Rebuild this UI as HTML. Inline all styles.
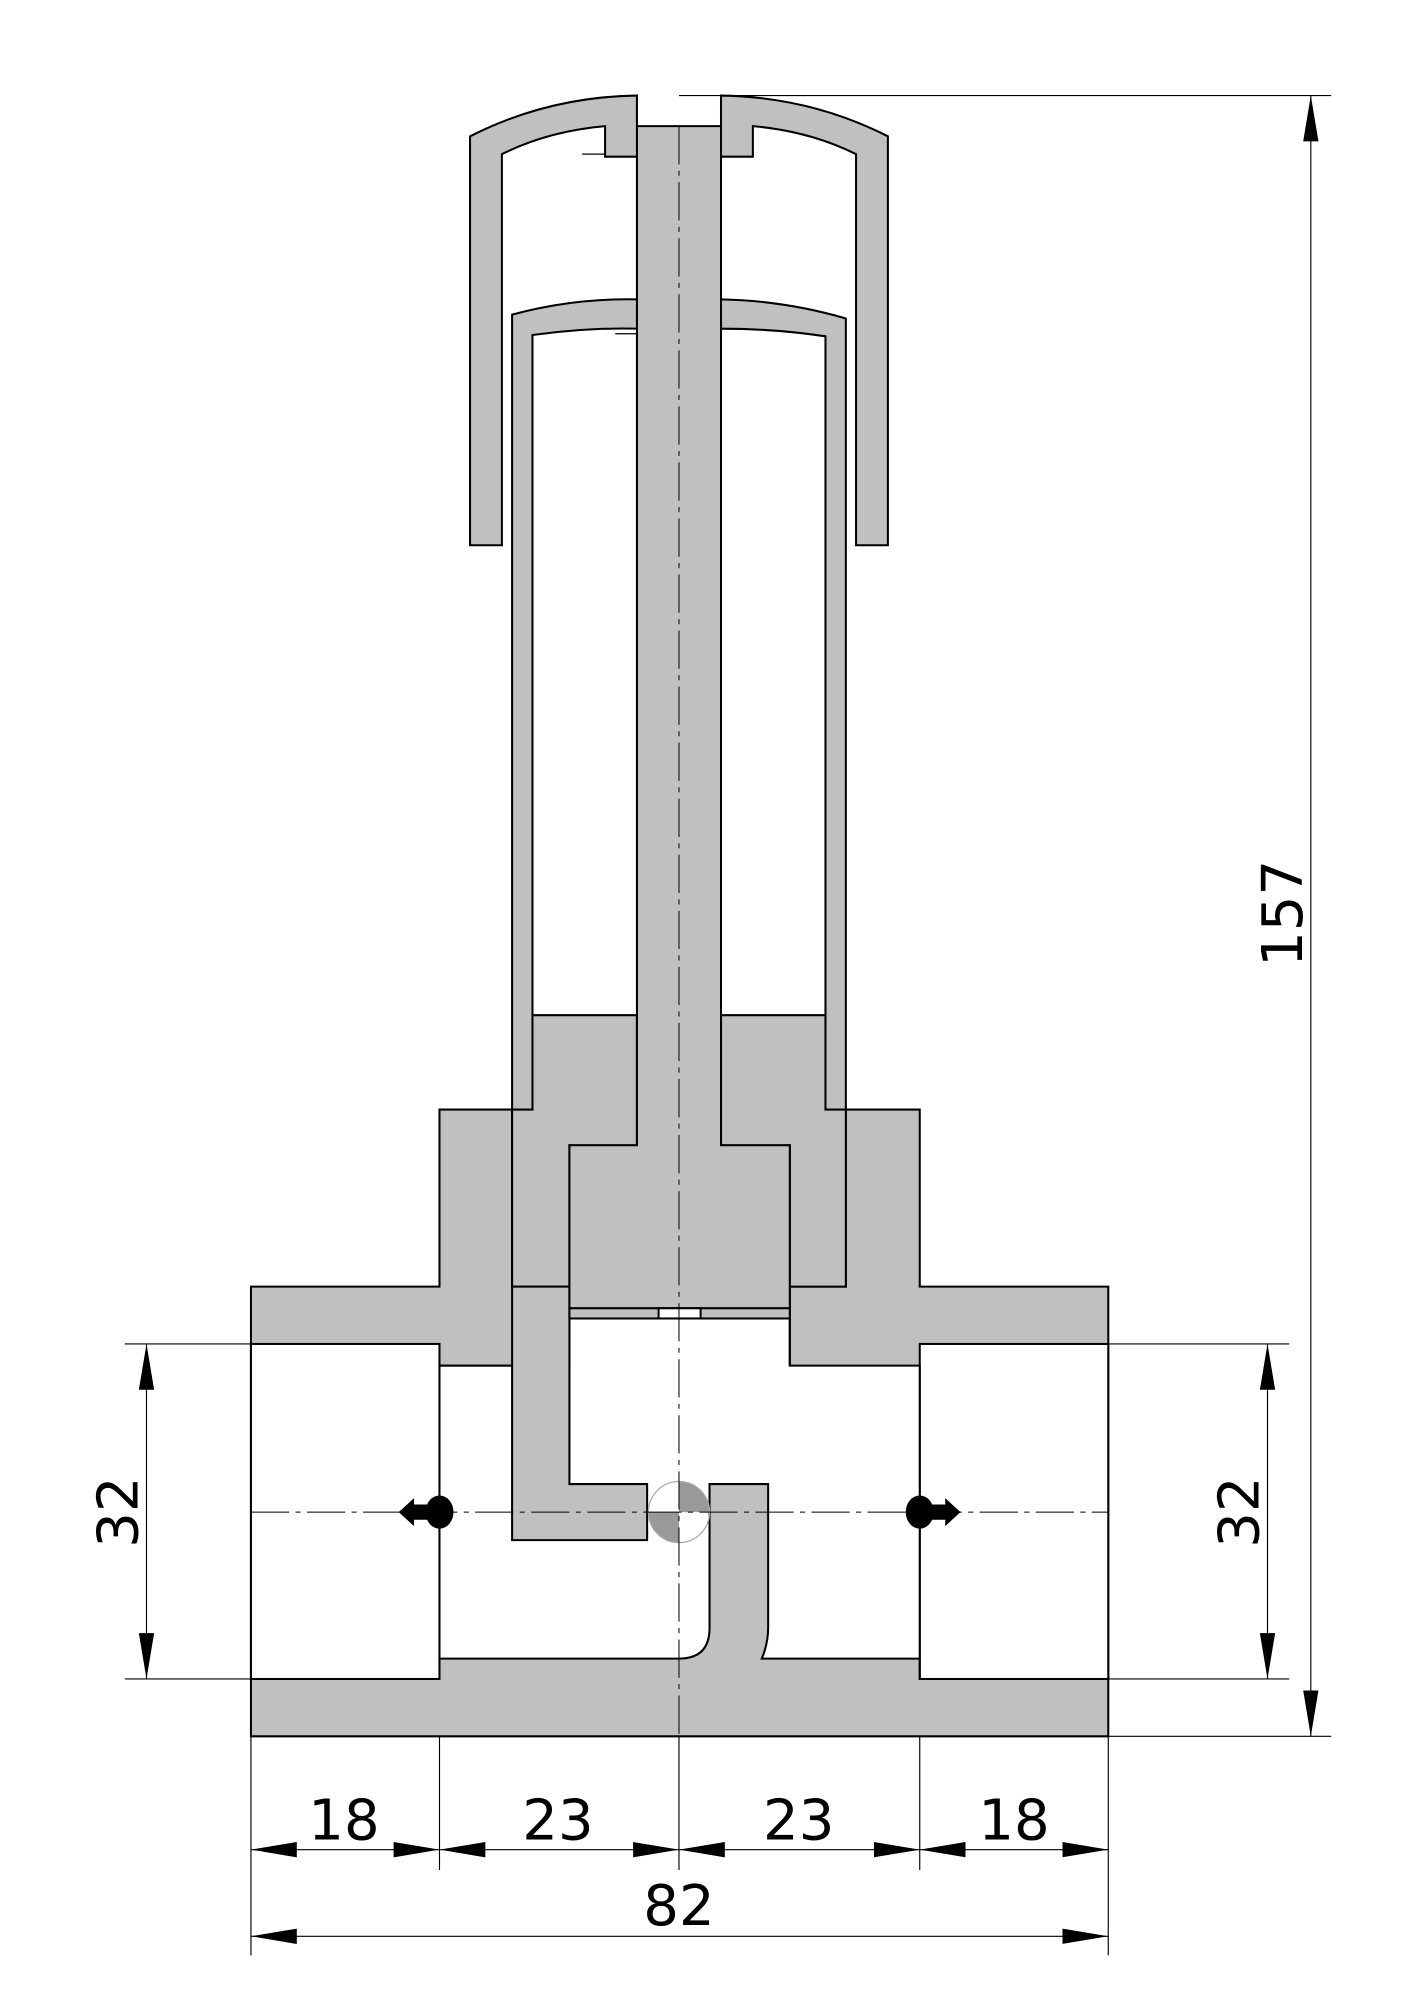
<!DOCTYPE html>
<html><head><meta charset="utf-8"><style>html,body{margin:0;padding:0;background:#fff}svg{display:block}</style></head>
<body>
<svg width="1414" height="2000" viewBox="0 0 1110 1570" xmlns="http://www.w3.org/2000/svg">
<defs>
<marker id="a" viewBox="0 0 20 8" refX="20" refY="4" markerWidth="20" markerHeight="8" orient="auto-start-reverse" markerUnits="userSpaceOnUse"><path d="M0,0 L20,4 L0,8 Z" fill="#000"/></marker>
<marker id="b" viewBox="0 0 36 12" refX="36" refY="6" markerWidth="36" markerHeight="12" orient="auto-start-reverse" markerUnits="userSpaceOnUse"><path d="M0,0 L36,6 L0,12 Z" fill="#000"/></marker>
</defs>
<g stroke="#000" stroke-width="1.6" fill="#c0c0c0" stroke-linejoin="miter">
<!-- body -->
<path d="M197,1010 H345 V871 H722 V1010 H870 V1363 H197 Z"/>
<rect x="197" y="1055" width="148" height="263" fill="#fff"/>
<rect x="722" y="1055" width="148" height="263" fill="#fff"/>
<path fill="#fff" d="M345,1072 H447 V1035 H620 V1072 H722 V1302 H598 Q603,1290 603,1278 V1165 H557 V1278 Q557,1302 533,1302 H345 Z"/>
<line x1="345" y1="1318" x2="345" y2="1302"/>
<line x1="722" y1="1318" x2="722" y2="1302"/>
<!-- tube -->
<path d="M402,1010 V247 Q450,234 500,235 H566 Q616,236 664,250 V1010 Z"/>
<path fill="#fff" d="M418,797 V263 Q460,257 500,258 H566 Q608,258 648,264 V797 Z"/>
<path d="M418,797 H500 V899 H447 V1010 H402 V871 H418 Z"/>
<path d="M648,797 H566 V899 H620 V1010 H664 V871 H648 Z"/>
<!-- left insert -->
<path d="M402,1010 H447 V1165 H508 V1209 H402 Z"/>
<line x1="345" y1="1072" x2="402" y2="1072"/>
<line x1="620" y1="1010" x2="620" y2="1072"/>
<!-- stem -->
<path d="M500,99 H566 V899 H620 V1027 H447 V899 H500 Z"/>
<rect x="447" y="1027" width="173" height="8"/>
<rect x="517" y="1027" width="33" height="8" fill="#fff"/>
<!-- cap -->
<path d="M369,107 Q430,76 500,75 V123 H475 V99 Q430,103 394,121 V428 H369 Z"/>
<path d="M697,107 Q636,76 566,75 V123 H591 V99 Q636,103 672,121 V428 H697 Z"/>
</g>
<g stroke="#000" stroke-width="1" fill="none">
<line x1="457" y1="121" x2="475" y2="121"/>
<line x1="483" y1="262" x2="500" y2="262"/>
</g>
<!-- ball -->
<g>
<path d="M533,1187 V1163 A24,24 0 0 1 557,1187 Z" fill="#999"/>
<path d="M533,1187 V1211 A24,24 0 0 1 509,1187 Z" fill="#999"/>
<circle cx="533" cy="1187" r="24" fill="none" stroke="#aaa" stroke-width="1"/>
</g>
<!-- centerlines -->
<g stroke="#000" stroke-width="0.8" fill="none" stroke-dasharray="30,5,4,5">
<line x1="533" y1="99" x2="533" y2="1363"/>
<line x1="197" y1="1187" x2="870" y2="1187"/>
</g>
<!-- flow arrows -->
<g fill="#000">
<ellipse cx="345" cy="1187" rx="11" ry="13"/>
<path d="M340,1181 H325 V1176 L313,1187 L325,1198 V1193 H340 Z"/>
<ellipse cx="722" cy="1187" rx="11" ry="13"/>
<path d="M727,1181 H742 V1176 L754,1187 L742,1198 V1193 H727 Z"/>
</g>
<!-- dimensions -->
<g stroke="#000" stroke-width="0.9" fill="none">
<line x1="533" y1="75" x2="1045" y2="75"/>
<line x1="870" y1="1363" x2="1045" y2="1363"/>
<line x1="1029" y1="75" x2="1029" y2="1363" marker-start="url(#b)" marker-end="url(#b)"/>
<line x1="98" y1="1055" x2="197" y2="1055"/>
<line x1="98" y1="1318" x2="197" y2="1318"/>
<line x1="115" y1="1055" x2="115" y2="1318" marker-start="url(#b)" marker-end="url(#b)"/>
<line x1="870" y1="1055" x2="1012" y2="1055"/>
<line x1="870" y1="1318" x2="1012" y2="1318"/>
<line x1="995" y1="1055" x2="995" y2="1318" marker-start="url(#b)" marker-end="url(#b)"/>
<line x1="197" y1="1363" x2="197" y2="1535"/>
<line x1="870" y1="1363" x2="870" y2="1535"/>
<line x1="345" y1="1363" x2="345" y2="1468"/>
<line x1="533" y1="1363" x2="533" y2="1468"/>
<line x1="722" y1="1363" x2="722" y2="1468"/>
<line x1="197" y1="1452" x2="345" y2="1452" marker-start="url(#b)" marker-end="url(#b)"/>
<line x1="345" y1="1452" x2="533" y2="1452" marker-start="url(#b)" marker-end="url(#b)"/>
<line x1="533" y1="1452" x2="722" y2="1452" marker-start="url(#b)" marker-end="url(#b)"/>
<line x1="722" y1="1452" x2="870" y2="1452" marker-start="url(#b)" marker-end="url(#b)"/>
<line x1="197" y1="1520" x2="870" y2="1520" marker-start="url(#b)" marker-end="url(#b)"/>
</g>
<g font-family="DejaVu Sans, Liberation Sans, sans-serif" font-size="44" fill="#000" text-anchor="middle">
<text x="270" y="1444">18</text>
<text x="438" y="1444">23</text>
<text x="627" y="1444">23</text>
<text x="796" y="1444">18</text>
<text x="533" y="1511">82</text>
<text transform="translate(1022,717) rotate(-90)">157</text>
<text transform="translate(108,1187) rotate(-90)">32</text>
<text transform="translate(988,1187) rotate(-90)">32</text>
</g>
</svg>
</body></html>
